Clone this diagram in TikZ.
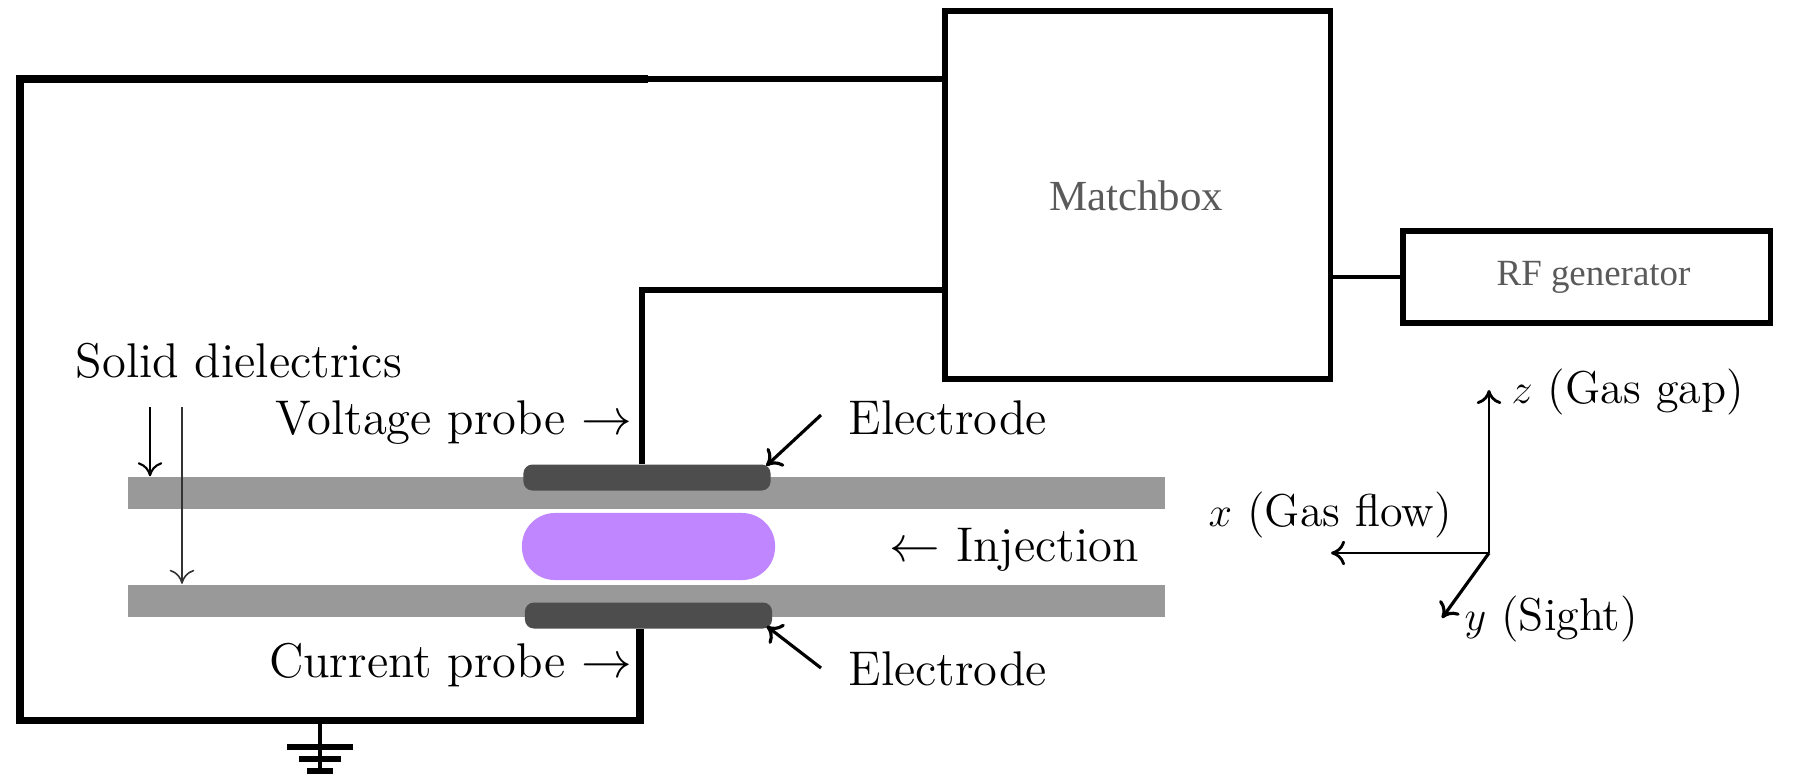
\documentclass[tikz,border=0pt]{standalone}
\usepackage{fontspec}
\newfontfamily\boxfont{Liberation Serif}
\usepackage{xcolor}
\usetikzlibrary{arrows.meta,calc}
\definecolor{slabgray}{HTML}{999999}
\definecolor{plateDark}{HTML}{4D4D4D}
\definecolor{plasmaPurple}{HTML}{BF86FF}
\definecolor{boxText}{HTML}{5A5A5A}
\tikzset{
 unitbox/.style={draw=black,line width=1.5pt,inner sep=0pt},
 boxlabel/.style={text=boxText,inner sep=0pt},
 slab/.style={fill=slabgray,inner sep=0pt,minimum width=10.37cm,minimum height=0.32cm},
 plate/.style={fill=plateDark,inner sep=0pt,rounded corners=0.09cm,minimum width=2.47cm,minimum height=0.26cm},
 wire/.style={line width=1.6pt,line join=miter},
 label/.style={font=\fontsize{13.85}{16}\selectfont,inner sep=0pt},
 axislabel/.style={font=\fontsize{13.1}{15}\selectfont,inner sep=0pt,anchor=west}
}
\begin{document}
\begin{tikzpicture}[x=0.01cm,y=-0.01cm,>={To[length=4pt,width=7pt]}]
 \useasboundingbox (0,0) rectangle (1798,775);
 % boxes on top
 \node[unitbox,minimum width=3.85cm,minimum height=3.68cm] (matchbox) at (1137.5,195) {};
 \node[boxlabel,font=\boxfont\fontsize{12.2}{14}\selectfont] (matchlabel) at (1136,196) {Matchbox};
 \node[unitbox,minimum width=3.67cm,minimum height=0.92cm] (rfgen) at (1586.5,277) {};
 \node[boxlabel,font=\boxfont\fontsize{10.5}{12}\selectfont] (rflabel) at (1593.5,277) {RF generator};
 \draw[line width=1.1pt] (matchbox.east |- rfgen) -- (rfgen.west);
 % dielectric slabs, plasma, electrodes
 \node[slab] (slabtop) at (646.5,493) {};
 \node[slab] (slabbot) at (646.5,600.5) {};
 \node[fill=plasmaPurple,inner sep=0pt,rounded corners=0.33cm,minimum width=2.53cm,minimum height=0.67cm] (plasma) at (648.5,546.5) {};
 \node[plate] (platetop) at (647,477.5) {};
 \node[plate] (platebot) at (648.5,615.5) {};
 % circuit
 \coordinate (cornerTL) at (20,79);
 \coordinate (midT) at (648,79);
 \coordinate (cornerBL) at (20,720);
 \coordinate (cornerBR) at (640,720);
 \coordinate (cornerV) at (642,290);
 \draw[wire,line width=2pt] (midT) -- (cornerTL) -- (cornerBL) -- (cornerBR) -- (cornerBR |- platebot.south);
 \draw[wire] (midT) -- (midT -| matchbox.west);
 \draw[wire] (cornerV -| matchbox.west) -- (cornerV) -- (cornerV |- platetop.north);
 % ground
 \coordinate (gnd) at (320,720);
 \draw[line width=1.3pt] (gnd) -- ++(0,52);
 \foreach \yb/\wb in {747/33,759/21,771/13} { \draw[line width=1.5pt] ($(gnd |- 0,\yb)+(-\wb,0)$) -- ($(gnd |- 0,\yb)+(\wb,0)$); }
 % labels
 \node[label,anchor=west] (solid) at (75,361) {Solid dielectrics};
 \coordinate (arrA) at (150,407);
 \coordinate (arrB) at (182,407);
 \draw[->,line width=0.6pt] (arrA) -- (arrA |- slabtop.north);
 \draw[->,line width=0.45pt,black!80] (arrB) -- (arrB |- slabbot.north);
 \node[label,anchor=east] (vprobe) at (633,423) {Voltage probe $\rightarrow$};
 \node[label,anchor=east] (iprobe) at (633,665) {Current probe $\rightarrow$};
 \node[label,anchor=west] (eltop) at (848,418) {Electrode};
 \node[label,anchor=west] (elbot) at (848,669) {Electrode};
 \draw[->,line width=0.9pt] ($(eltop.west)+(-27,-3)$) -- ($(platetop.north east)+(-5,2)$);
 \draw[->,line width=0.9pt] ($(elbot.west)+(-27,-1)$) -- ($(platebot.south east)+(-6,-3)$);
 \node[label,anchor=west] (inject) at (889,550) {$\leftarrow$ Injection};
 % axes
 \coordinate (origin) at (1489,553);
 \node[axislabel] (zlabel) at (1511,392) {$z$ (Gas gap)};
 \node[axislabel] (xlabel) at (1208,515) {$x$ (Gas flow)};
 \node[axislabel] (ylabel) at (1464,619) {$y$ (Sight)};
 \draw[->,line width=0.8pt] (origin) -- (1489,390);
 \draw[->,line width=0.8pt] (origin) -- (1331,553);
 \draw[->,line width=0.9pt] (origin) -- (1442,618);
\end{tikzpicture}
\end{document}
